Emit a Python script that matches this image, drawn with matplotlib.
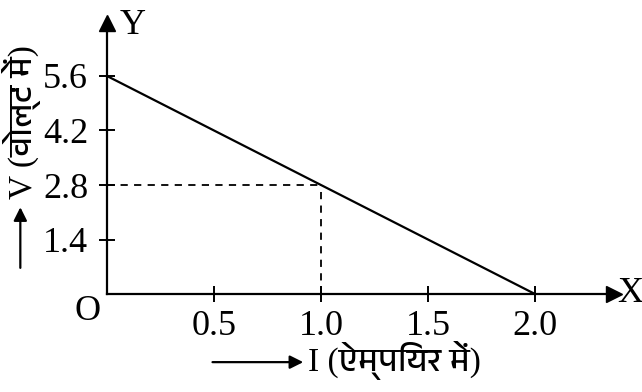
import matplotlib
matplotlib.use("Agg")
import matplotlib.pyplot as plt
from matplotlib import font_manager
from fontTools.ttLib import TTFont

# V-I line of the cell
current = [0.0, 2.0]
voltage = [5.6, 0.0]
mark_i, mark_v = 1.0, 2.8
xticks = [0.5, 1.0, 1.5, 2.0]
yticks = [1.4, 2.8, 4.2, 5.6]

# find some font that has devanagari glyphs
deva = None
found = []
for f in font_manager.fontManager.ttflist:
    try:
        cmap = TTFont(f.fname, fontNumber=0, lazy=True).getBestCmap()
    except Exception:
        continue
    if cmap and 0x0935 in cmap:
        found.append(f.name)
if found:
    deva = sorted(found, key=lambda n: ("Devanagari" not in n, n))[0]

serif = "Liberation Serif"
fams = [serif] + ([deva] if deva else []) + ["DejaVu Sans"]

fig = plt.figure(figsize=(6.42, 3.92), dpi=100)
ax = fig.add_axes([0, 0, 1, 1])
ax.set_xlim(-0.5, 2.5)
ax.set_ylim(-2.517, 7.552)

for s in ["top", "right"]:
    ax.spines[s].set_visible(False)
ax.spines["left"].set_position(("data", 0))
ax.spines["bottom"].set_position(("data", 0))
ax.spines["left"].set_bounds(0, 6.9)
ax.spines["bottom"].set_bounds(0, 2.35)
ax.spines["left"].set_linewidth(1.6)
ax.spines["bottom"].set_linewidth(1.6)

# arrow heads
ax.plot(2.37, 0, marker=">", ms=11, color="black", clip_on=False)
ax.plot(0, 6.95, marker="^", ms=11, color="black", clip_on=False)

ax.set_xticks(xticks, [f"{t:.1f}" for t in xticks])
ax.set_yticks(yticks, [f"{t:.1f}" for t in yticks])
ax.tick_params(direction="inout", length=11, width=1.4, labelsize=26)
ax.tick_params(axis="x", pad=6)
ax.tick_params(axis="y", pad=8)
for lab in ax.get_xticklabels() + ax.get_yticklabels():
    lab.set_family(serif)

ax.plot(current, voltage, color="black", lw=1.6)
ax.plot([0, mark_i], [mark_v, mark_v], color="black", lw=1.3, ls=(0, (4, 3.5)))
ax.plot([mark_i, mark_i], [0, mark_v], color="black", lw=1.3, ls=(0, (4, 3.5)))

ax.text(0.12, 6.9, "Y", fontsize=26, family=serif, va="center", ha="center")
ax.text(2.445, 0.02, "X", fontsize=26, family=serif, va="center", ha="center")
ax.text(-0.09, -0.45, "O", fontsize=26, family=serif, va="center", ha="center")

# axis titles with arrows
ax.annotate("", xy=(0.93, -1.75), xytext=(0.48, -1.75),
            arrowprops=dict(arrowstyle="-|>", color="black", lw=1.6, mutation_scale=20))
ax.text(0.94, -1.72, "I (ऐम्पियर में)", fontsize=24, family=fams, va="center", ha="left")
ax.annotate("", xy=(-0.405, 2.3), xytext=(-0.405, 0.6),
            arrowprops=dict(arrowstyle="-|>", color="black", lw=1.6, mutation_scale=20))
ax.text(-0.4, 2.45, "V (वोल्ट में)", fontsize=24, family=fams, rotation=90,
        va="bottom", ha="center")

fig.savefig("out.png", dpi=100)
